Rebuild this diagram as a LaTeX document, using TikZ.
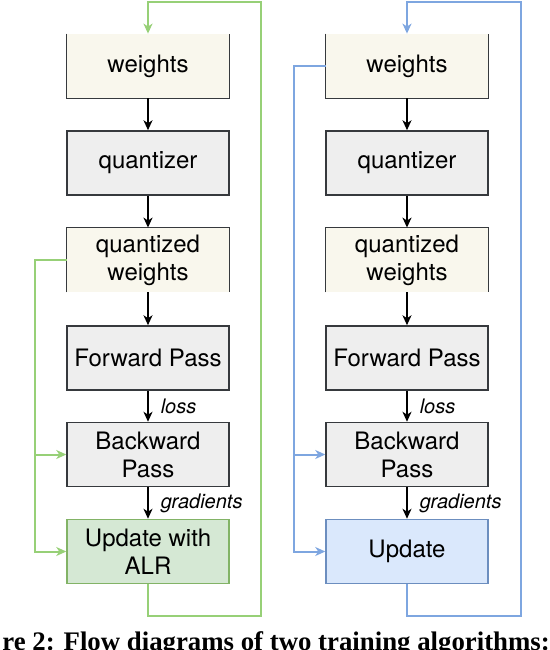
\documentclass[tikz,border=0pt]{standalone}
\usepackage{fontspec}
\newfontfamily\heros{TeX Gyre Heros}
\newfontfamily\capserif{Liberation Serif}
\definecolor{wbeige}{HTML}{F9F7ED}
\definecolor{stepgray}{HTML}{EEEEEE}
\definecolor{edgedark}{HTML}{36393D}
\definecolor{alrgreen}{HTML}{D5E8D4}
\definecolor{alrborder}{HTML}{82B366}
\definecolor{loopgreen}{HTML}{97D077}
\definecolor{updblue}{HTML}{DAE8FC}
\definecolor{updborder}{HTML}{6C8EBF}
\definecolor{loopblue}{HTML}{7EA6E0}
\usetikzlibrary{arrows.meta}

\begin{document}
\begin{tikzpicture}[x=0.5pt, y=-0.5pt,
  stagebox/.style={minimum width=81pt, minimum height=32pt, inner sep=0pt, align=center,
    font=\heros\fontsize{12}{14}\selectfont},
  graybox/.style={stagebox, draw=edgedark, fill=stepgray, line width=0.75pt},
  wbox/.style={stagebox, fill=wbeige},
  arrowhd/.style={-{Stealth[length=5pt, width=4.5pt, inset=1.5pt]}},
  flow/.style={arrowhd, line width=0.75pt, black},
  lbl/.style={right, inner sep=6pt, font=\heros\itshape\fontsize{10}{12}\selectfont},
  gloop/.style={line width=1pt, loopgreen},
  bloop/.style={line width=1pt, loopblue}]
  \clip (0,0) rectangle (550,650);

  % Left column: training with ALR
  \node[wbox] (wL) at (148,66) {weights};
  \node[graybox] (qL) at (148,163) {quantizer};
  \node[wbox] (qwL) at (148,260) {quantized\\weights};
  \node[graybox] (fwdL) at (148,358) {Forward Pass};
  \node[graybox] (bwdL) at (148,454.5) {Backward\\Pass};
  \node[stagebox, draw=alrborder, fill=alrgreen, line width=0.75pt] (updL) at (148,551.5) {Update with\\ALR};
  \draw[edgedark, line width=0.75pt] (wL.north west) -- (wL.south west) -- (wL.south east) -- (wL.north east);
  \draw[edgedark, line width=0.75pt] (qwL.south west) -- (qwL.north west) -- (qwL.north east) -- (qwL.south east);

  \draw[flow] (wL) -- (qL);
  \draw[flow] (qL) -- (qwL);
  \draw[flow] (qwL) -- (fwdL);
  \draw[flow] (fwdL) -- node[lbl] {loss} (bwdL);
  \draw[flow] (bwdL) -- node[lbl] {gradients} (updL);

  \coordinate (turnL) at (261,2);
  \coordinate (tapL) at (35,454.5);
  \draw[gloop, arrowhd] (updL.south) -- ++(0,32) -| (turnL) -| (wL.north);
  \draw[gloop, arrowhd] (qwL.west) -| (tapL) |- (updL.west);
  \draw[gloop, arrowhd] (tapL) -- (bwdL.west);

  % Right column: plain update
  \node[wbox] (wR) at (407,66) {weights};
  \node[graybox] (qR) at (407,163) {quantizer};
  \node[wbox] (qwR) at (407,260) {quantized\\weights};
  \node[graybox] (fwdR) at (407,358) {Forward Pass};
  \node[graybox] (bwdR) at (407,454.5) {Backward\\Pass};
  \node[stagebox, draw=updborder, fill=updblue, line width=0.75pt] (updR) at (407,551.5) {Update};
  \draw[edgedark, line width=0.75pt] (wR.north west) -- (wR.south west) -- (wR.south east) -- (wR.north east);
  \draw[edgedark, line width=0.75pt] (qwR.south west) -- (qwR.north west) -- (qwR.north east) -- (qwR.south east);

  \draw[flow] (wR) -- (qR);
  \draw[flow] (qR) -- (qwR);
  \draw[flow] (qwR) -- (fwdR);
  \draw[flow] (fwdR) -- node[lbl] {loss} (bwdR);
  \draw[flow] (bwdR) -- node[lbl] {gradients} (updR);

  \coordinate (turnR) at (521,2);
  \coordinate (tapR) at (294,454.5);
  \draw[bloop, arrowhd] (updR.south) -- ++(0,32) -| (turnR) -| (wR.north);
  \draw[bloop, arrowhd] (wR.west) -| (tapR) |- (updR.west);
  \draw[bloop, arrowhd] (tapR) -- (bwdR.west);

  % Caption, cut off by the page edge
  \node[anchor=base west, inner sep=0pt, font=\capserif\bfseries\fontsize{13.4}{16}\selectfont] (cap) at (2,650.5)
    {re 2: Flow diagrams of two training algorithms:};
\end{tikzpicture}
\end{document}
